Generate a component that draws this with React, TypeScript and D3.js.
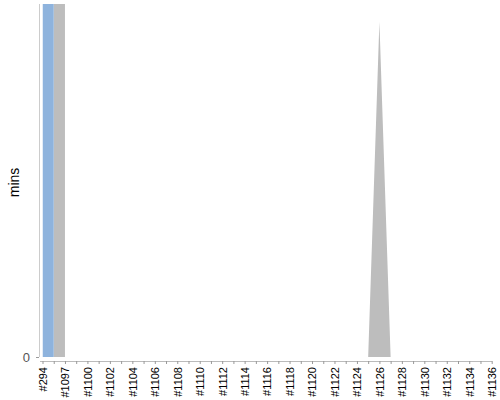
import React, { useEffect, useRef } from 'react';
import * as d3 from 'd3';

// run ids along the x axis
const categories: string[] = [
    '#294', '#1096', '#1097', '#1098', '#1100', '#1101', '#1102', '#1103', '#1104', '#1105',
    '#1106', '#1107', '#1108', '#1109', '#1110', '#1111', '#1112', '#1113', '#1114', '#1115',
    '#1116', '#1117', '#1118', '#1119', '#1120', '#1121', '#1122', '#1123', '#1124', '#1125',
    '#1126', '#1127', '#1128', '#1129', '#1130', '#1131', '#1132', '#1133', '#1134', '#1135',
    '#1136'
];

// minutes per run, null = no data
const blueMins: (number | null)[] = [
    640, 640, null, null, null, null, null, null, null, null,
    null, null, null, null, null, null, null, null, null, null,
    null, null, null, null, null, null, null, null, null, null,
    null, null, null, null, null, null, null, null, null, null,
    null
];

const greyMins: (number | null)[] = [
    null, 640, 640, null, 0, 0, 0, 0, 0, 0,
    0, 0, 0, 0, 0, 0, 0, 0, 0, 0,
    0, 0, 0, 0, 0, 0, 0, 0, 0, 0,
    95, 0, 0, 0, 0, 0, 0, 0, 0, 0,
    0
];

const yTicks: number[] = [0];
const yMax = 100;

export default function App() {
    const canvas = useRef<SVGSVGElement>(null);

    useEffect(() => {
        const width = 500;
        const height = 400;
        const margin = { top: 4, right: 8, bottom: 43, left: 42.5 };
        const svg = d3.select(canvas.current);
        svg.selectAll('*').remove();

        const x = d3.scalePoint<number>()
            .domain(d3.range(categories.length))
            .range([margin.left, 491.7]);

        const y = d3.scaleLinear()
            .domain([0, yMax])
            .range([height - margin.bottom, margin.top]);

        svg.append('defs').append('clipPath')
            .attr('id', 'plotClip')
            .append('rect')
            .attr('x', margin.left)
            .attr('y', margin.top)
            .attr('width', 491.7 - margin.left)
            .attr('height', height - margin.bottom - margin.top);

        const area = d3.area<number | null>()
            .defined(d => d != null)
            .x((d, i) => x(i) as number)
            .y0(y(0))
            .y1(d => y(d as number));

        const plot = svg.append('g').attr('clip-path', 'url(#plotClip)');

        plot.append('path')
            .datum(greyMins)
            .attr('d', area)
            .attr('fill', '#bdbdbd');

        plot.append('path')
            .datum(blueMins)
            .attr('d', area)
            .attr('fill', '#8eb3dd');

        // y axis
        const yAxis = svg.append('g')
            .attr('transform', 'translate(39,0)')
            .call(d3.axisLeft(y).tickValues(yTicks).tickSize(3).tickPadding(6));
        yAxis.select('.domain')
            .attr('d', 'M0.5,' + margin.top + 'V' + y(0))
            .attr('stroke', '#ccc');
        yAxis.selectAll('.tick line').attr('stroke', '#999');
        yAxis.selectAll('.tick text')
            .attr('fill', '#555')
            .style('font-family', 'Arial, "Liberation Sans", sans-serif')
            .style('font-size', '13px');

        // x axis
        const xAxis = svg.append('g')
            .attr('transform', 'translate(0,' + (y(0) + 4) + ')')
            .call(d3.axisBottom(x)
                .tickSize(3)
                .tickFormat((i: number) => (i % 2 === 0 ? categories[i] : '')));
        xAxis.select('.domain')
            .attr('d', 'M40,0.5H' + 492)
            .attr('stroke', '#bbb');
        xAxis.selectAll('.tick line').attr('stroke', '#999');
        xAxis.selectAll('.tick text')
            .attr('transform', 'rotate(-90)')
            .attr('text-anchor', 'end')
            .attr('x', -6)
            .attr('y', 0)
            .attr('dy', '0.35em')
            .attr('fill', '#000')
            .style('font-family', 'Arial, "Liberation Sans", sans-serif')
            .style('font-size', '11px');

        svg.append('text')
            .attr('transform', 'translate(19,' + (y(yMax / 2) + 2) + ') rotate(-90)')
            .attr('text-anchor', 'middle')
            .attr('fill', '#000')
            .style('font-family', 'Arial, "Liberation Sans", sans-serif')
            .style('font-size', '14px')
            .text('mins');

        svg.attr('width', width).attr('height', height);
    }, []);

    return (
        <svg ref={canvas} style={{ position: 'absolute', left: 0, top: 0 }} />
    );
}
